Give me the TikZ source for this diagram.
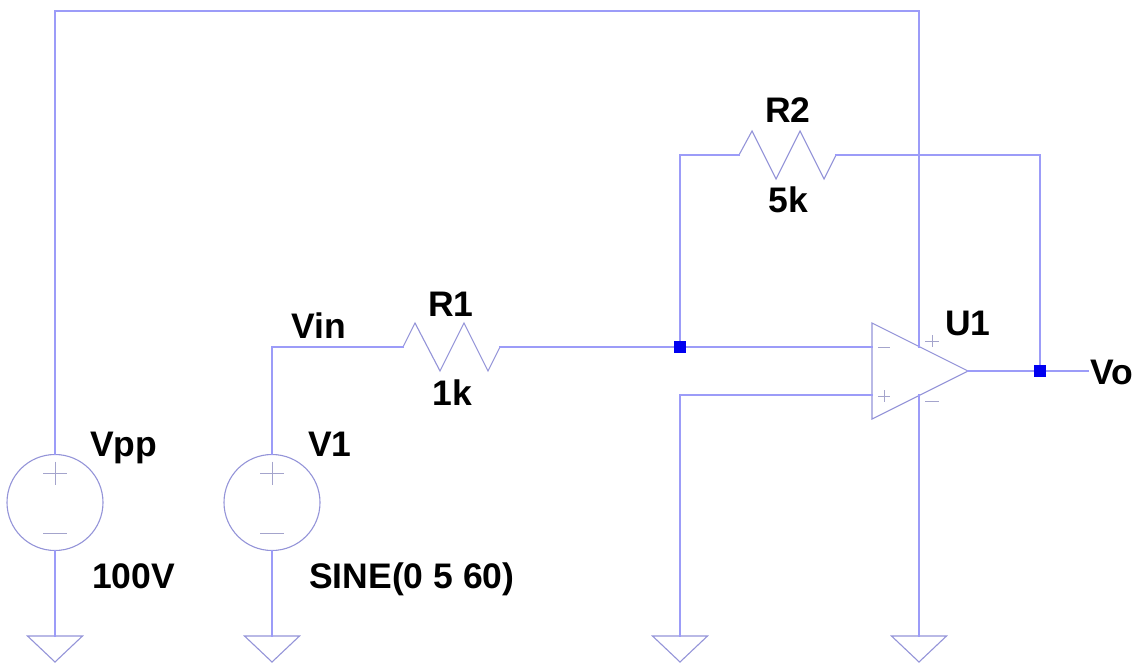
\documentclass[tikz,border=0pt]{standalone}
\usepackage{fontspec}
\setmainfont{Liberation Sans}
\definecolor{wirecol}{HTML}{9C9CF8}
\definecolor{symcol}{HTML}{9494D8}
\definecolor{pincol}{HTML}{A4A4CC}
\definecolor{dotcol}{HTML}{0000F0}
\tikzset{
  wire/.style={draw=wirecol,line width=1.3pt,line cap=rect,line join=miter},
  sym/.style={draw=symcol,line width=1.1pt,line join=miter},
  pinmark/.style={draw=pincol,line width=1pt},
  source/.style={circle,draw=symcol,line width=1.1pt,minimum size=96pt,inner sep=0pt},
  dot/.style={rectangle,fill=dotcol,minimum size=12pt,inner sep=0pt},
  lab/.style={inner sep=0pt,font=\fontsize{35.5}{35.5}\selectfont\bfseries,text=black,anchor=base west},
  labc/.style={lab,anchor=base},
}
\newcommand{\gnd}[1]{\draw[sym] (#1) ++(-27.5,0) -- ++(55,0) -- ++(-27.5,26) -- cycle;}
\newcommand{\signs}[1]{%
  \draw[pinmark] ($(#1.center)+(-12,-29.5)$) -- ++(24,0);
  \draw[pinmark] ($(#1.center)+(0,-41)$) -- ++(0,23);
  \draw[pinmark] ($(#1.center)+(-12,30.5)$) -- ++(24,0);}
\usetikzlibrary{calc}
\begin{document}
\begin{tikzpicture}[x=1pt,y=-1pt]
\useasboundingbox (0,0) rectangle (1142,663);
% sources
\node[source] (vpp) at (55,502.5) {};
\node[source] (v1) at (272,502.5) {};
\signs{vpp}
\signs{v1}
% grounds
\coordinate (g1) at (55,636);
\coordinate (g2) at (272,636);
\coordinate (g3) at (680,636);
\coordinate (g4) at (919,636);
\gnd{g1} \gnd{g2} \gnd{g3} \gnd{g4}
% op amp
\coordinate (ua) at (872,323);
\coordinate (ub) at (872,419);
\coordinate (uo) at (968,371);
\coordinate (uinm) at (872,347);
\coordinate (uinp) at (872,395);
\coordinate (uvp) at (919,347);
\coordinate (uvm) at (919,395);
\draw[sym] (ua) -- (uo) -- (ub) -- cycle;
\draw[pinmark] (878,347.5) -- ++(12,0);
\draw[pinmark] (878,396) -- ++(12,0);
\draw[pinmark] (884,390) -- ++(0,12);
\draw[pinmark] (925,341) -- ++(14,0);
\draw[pinmark] (932,335) -- ++(0,12);
\draw[pinmark] (925,401) -- ++(14,0);
% resistors
\coordinate (r1a) at (403,347);
\coordinate (r1b) at (500,347);
\coordinate (r2a) at (739,155);
\coordinate (r2b) at (836,155);
\draw[sym] (r1a) -- (415,323) -- (440,371) -- (464,323) -- (488,371) -- (r1b);
\draw[sym] (r2a) -- (752,131) -- (776,179) -- (800,131) -- (824,179) -- (r2b);
% junctions and corners
\coordinate (vincorner) at (272,347);
\coordinate (topl) at (55,11);
\coordinate (topr) at (919,11);
\coordinate (fbl) at (680,155);
\coordinate (fbr) at (1040,155);
\coordinate (ninp) at (680,395);
\coordinate (voend) at (1088,371);
% wires
\draw[wire] (vpp.north) -- (topl) -- (topr) -- (uvp);
\draw[wire] (uvm) -- (g4);
\draw[wire] (vpp.south) -- (g1);
\draw[wire] (v1.south) -- (g2);
\draw[wire] (v1.north) -- (vincorner) -- (r1a);
\draw[wire] (r1b) -- (uinm);
\draw[wire] (680,347) -- (fbl) -- (r2a);
\draw[wire] (r2b) -- (fbr) -- (1040,371);
\draw[wire] (uo) -- (voend);
\draw[wire] (uinp) -- (ninp) -- (g3);
\node[dot] (j1) at (680,347) {};
\node[dot] (j2) at (1040,371) {};
% labels
\node[lab] (tvpp) at (90,456) {Vpp};
\node[lab] (t100) at (92,588) {100V};
\node[lab] (tv1) at (308,456) {V1};
\node[lab] (tsine) at (309,588) {SINE(0 5 60)};
\node[lab] (tvin) at (291,338) {Vin};
\node[labc] (tr1) at (451,316) {R1};
\node[labc] (t1k) at (452,405) {1k};
\node[labc] (tr2) at (788,123) {R2};
\node[labc] (t5k) at (788,212) {5k};
\node[lab] (tu1) at (945,335) {U1};
\node[lab] (tvo) at (1090,384) {Vo};
\end{tikzpicture}
\end{document}
